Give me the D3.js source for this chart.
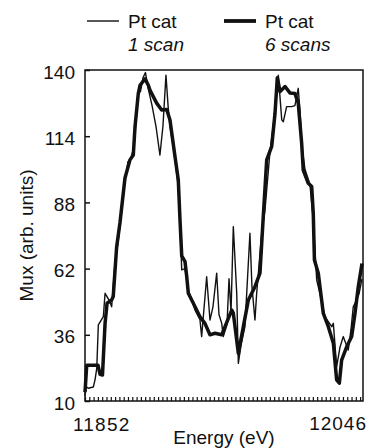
<!DOCTYPE html>
<html>
<head>
<meta charset="utf-8">
<script src="https://cdn.jsdelivr.net/npm/d3@7"></script>
<style>
  body { margin: 0; background: #fff; }
  svg text { font-family: "Liberation Sans", Arial, sans-serif; fill: #111; }
</style>
</head>
<body>
<svg id="chart" width="371" height="448"></svg>
<script>
// energy (eV) and Mux readings, 1 scan (thin line)
const energy_1scan = [11852.0, 11852.7, 11854.3, 11857.8, 11859.0, 11860.2, 11861.3, 11864.8, 11866.0, 11869.4,
  11870.6, 11872.9, 11875.0, 11877.1, 11879.9, 11882.0, 11884.1, 11886.2, 11887.6, 11889.0,
  11890.7, 11892.5, 11894.2, 11896.0, 11898.8, 11901.5, 11904.3, 11906.4, 11908.5, 11910.1,
  11911.3, 11914.8, 11917.1, 11918.3, 11919.5, 11921.8, 11923.9, 11928.8, 11932.2, 11933.4,
  11936.9, 11939.2, 11941.3, 11943.9, 11945.5, 11947.4, 11948.5, 11951.1, 11952.5, 11953.9,
  11955.5, 11957.9, 11959.0, 11960.9, 11963.6, 11967.1, 11968.5, 11970.6, 11971.8, 11975.3,
  11977.6, 11981.1, 11984.6, 11986.9, 11989.3, 11990.4, 11992.7, 11996.2, 11998.5, 12000.8,
  12002.0, 12003.4, 12005.5, 12009.0, 12011.1, 12013.7, 12016.0, 12019.5, 12024.2, 12025.3,
  12027.6, 12029.9, 12032.2, 12035.7, 12037.6, 12039.2, 12041.6, 12043.2, 12045.3];
const mux_1scan = [12, 15.7, 15, 15.5, 18.3, 22.8, 39.9, 43.1, 52.3, 49,
  47, 64, 72, 82, 96, 104, 105.5, 110, 120, 131,
  131.5, 137, 139, 133, 126, 118, 106.6, 118, 138, 125,
  118, 105, 94, 80, 61.5, 62, 54, 45.7, 42, 35.3,
  58.8, 41.8, 47, 60.2, 44, 40.5, 35.3, 40, 58, 45,
  78.5, 52, 24.8, 32, 39.2, 75.9, 55, 41.8, 52.3, 75.9,
  85, 108, 124, 138, 120.4, 119.7, 125.6, 125.6, 126, 132.8,
  124.3, 110, 101, 95, 82, 57.5, 52, 43, 39.2, 40.5,
  23.5, 31, 35.3, 30, 38, 47, 49.7, 52, 58];

// energy (eV) and Mux readings, 6 scans (thick line)
const energy_6scans = [11852.0, 11853.2, 11861.1, 11862.5, 11864.2, 11866.0, 11867.4, 11870.6, 11871.7, 11874.1,
  11876.4, 11879.9, 11883.4, 11885.7, 11886.9, 11889.2, 11890.4, 11893.9, 11896.2, 11897.4,
  11902.0, 11905.5, 11909.0, 11911.3, 11914.8, 11917.1, 11918.3, 11919.5, 11921.8, 11923.0,
  11924.1, 11927.6, 11932.2, 11935.7, 11939.2, 11942.7, 11947.4, 11949.7, 11954.4, 11955.5,
  11959.0, 11962.5, 11966.0, 11970.6, 11974.1, 11976.4, 11978.8, 11982.3, 11984.6, 11986.2,
  11988.1, 11991.6, 11995.0, 11998.5, 12000.8, 12003.2, 12004.3, 12007.8, 12010.2, 12011.3,
  12012.1, 12014.8, 12018.3, 12021.8, 12025.3, 12027.6, 12029.5, 12031.1, 12034.6, 12038.1,
  12040.4, 12042.7, 12045.3];
const mux_6scans = [13.5, 24, 24, 20.5, 20.2, 40.5, 48.4, 49.7, 51, 70.6,
  80, 97.6, 104.7, 106.6, 117.7, 130.8, 134, 136.5, 134, 132,
  127, 124.3, 124.5, 120.4, 106, 96.8, 81, 67, 64.7, 58.8,
  52.3, 48.4, 43.1, 40.5, 36, 36.6, 36, 39.2, 45.7, 44.5,
  28.7, 39.2, 49.7, 54.9, 60.2, 82.4, 104.7, 110, 123, 137,
  131.5, 133.5, 131, 130.8, 127, 111.2, 100.7, 95.5, 94.2, 83.7,
  65.4, 60.2, 44.4, 39.2, 32.7, 18.3, 17, 26.1, 31.3, 35.3,
  44.4, 54.9, 64];

const y_ticks = [10, 36, 62, 88, 114, 140];
const x_labels = [11852, 12046];

const plotLeft = 85, plotRight = 363, plotTop = 70, plotBottom = 401;
const x = d3.scaleLinear().domain([11852, 12046]).range([plotLeft, plotRight]);
const y = d3.scaleLinear().domain([10, 140]).range([plotBottom, plotTop]);

const svg = d3.select('#chart');

// frame
svg.append('rect')
  .attr('x', plotLeft).attr('y', plotTop)
  .attr('width', plotRight - plotLeft).attr('height', plotBottom - plotTop)
  .attr('fill', 'none').attr('stroke', '#111').attr('stroke-width', 1.5);

// left axis: inward ticks
const yAxis = d3.axisRight(y).tickValues(y_ticks).tickSize(5).tickFormat('');
svg.append('g').attr('transform', `translate(${plotLeft},0)`).call(yAxis)
  .call(g => g.select('.domain').remove())
  .selectAll('line').attr('stroke', '#111').attr('stroke-width', 1.5);

svg.selectAll('.ylab')
  .data(y_ticks)
  .enter()
  .append('text')
  .attr('class', 'ylab')
  .attr('x', 75)
  .attr('y', d => y(d) + 2)
  .attr('dy', '0.35em')
  .attr('text-anchor', 'end')
  .attr('font-size', 19)
  .text(d => d);

// bottom axis: many small inward ticks
const xAxis = d3.axisTop(x).tickValues(d3.range(11852, 12047, 3)).tickSize(4).tickFormat('');
svg.append('g').attr('transform', `translate(0,${plotBottom})`).call(xAxis)
  .call(g => g.select('.domain').remove())
  .selectAll('line').attr('stroke', '#111').attr('stroke-width', 1.2);

svg.append('text')
  .attr('x', x(x_labels[0]) - 12).attr('y', 431)
  .attr('font-size', 19).attr('letter-spacing', 1.2).text(x_labels[0]);
svg.append('text')
  .attr('x', x(x_labels[1]) + 4).attr('y', 430)
  .attr('text-anchor', 'end')
  .attr('font-size', 19).attr('letter-spacing', 1).text(x_labels[1]);

// axis titles
svg.append('text')
  .attr('x', 224).attr('y', 444)
  .attr('text-anchor', 'middle')
  .attr('font-size', 19)
  .text('Energy (eV)');

svg.append('text')
  .attr('transform', `translate(33,${(plotTop + plotBottom) / 2}) rotate(-90)`)
  .attr('text-anchor', 'middle')
  .attr('font-size', 19)
  .text('Mux (arb. units)');

// lines
const line = d3.line().x(d => x(d[0])).y(d => y(d[1]));
const thin = d3.zip(energy_1scan, mux_1scan);
const thick = d3.zip(energy_6scans, mux_6scans);

svg.append('path')
  .datum(thin)
  .attr('d', line)
  .attr('fill', 'none')
  .attr('stroke', '#111')
  .attr('stroke-width', 1.4)
  .attr('stroke-linejoin', 'round');

svg.append('path')
  .datum(thick)
  .attr('d', line)
  .attr('fill', 'none')
  .attr('stroke', '#111')
  .attr('stroke-width', 3.5)
  .attr('stroke-linejoin', 'round');

// legend
const legend = [
  {name: 'Pt cat', sub: '1 scan', width: 1.4, x0: 87},
  {name: 'Pt cat', sub: '6 scans', width: 3.8, x0: 224}
];
const lg = svg.selectAll('.legend')
  .data(legend)
  .enter()
  .append('g')
  .attr('class', 'legend')
  .attr('transform', d => `translate(${d.x0},0)`);

lg.append('line')
  .attr('x1', 0).attr('x2', 32)
  .attr('y1', 21).attr('y2', 21)
  .attr('stroke', '#111')
  .attr('stroke-width', d => d.width);

lg.append('text')
  .attr('x', 41).attr('y', 28)
  .attr('font-size', 19)
  .text(d => d.name);

lg.append('text')
  .attr('x', 41).attr('y', 51)
  .attr('font-size', 19)
  .attr('font-style', 'italic')
  .text(d => d.sub);
</script>
</body>
</html>
